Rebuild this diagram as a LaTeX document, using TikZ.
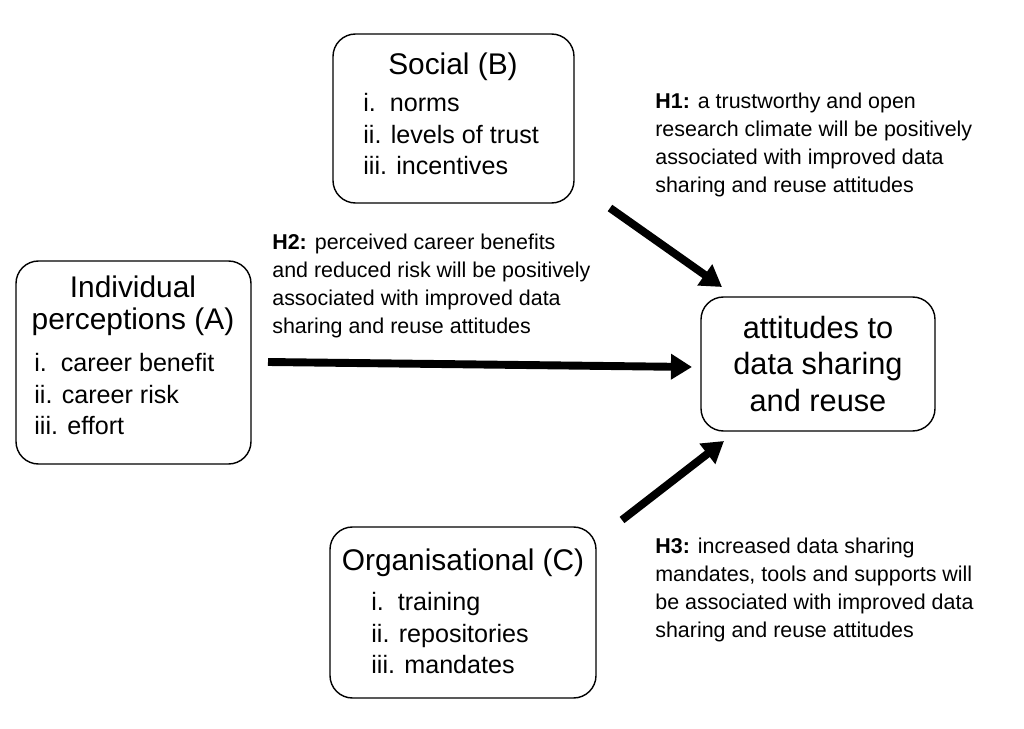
\documentclass[tikz,border=0pt]{standalone}
\usepackage{fontspec}
\setmainfont{Liberation Sans}
\usetikzlibrary{arrows.meta}
\tikzstyle{factor}=[draw,rounded corners=0.45cm,line width=0.8pt,inner sep=0pt]
\tikzstyle{title}=[inner sep=0pt,align=center,font=\fontsize{17}{18.5}\selectfont]
\tikzstyle{items}=[inner sep=0pt,anchor=north west,align=left,font=\fontsize{14.3}{17.9}\selectfont]
\tikzstyle{hyp}=[inner sep=0pt,anchor=north west,align=left,font=\fontsize{12.2}{15.9}\selectfont]
\tikzstyle{link}=[line width=4.5pt,-{Triangle[length=12pt,width=14pt]}]

\begin{document}
\begin{tikzpicture}[x=0.02cm,y=-0.02cm]
	\useasboundingbox (0,0) rectangle (1024,729);
	% factor boxes
	\node[factor,minimum width=241*0.02cm,minimum height=169*0.02cm] (social) at (453.5,118.5) {};
	\node[factor,minimum width=235*0.02cm,minimum height=203*0.02cm] (indiv) at (133.5,362.5) {};
	\node[factor,minimum width=266*0.02cm,minimum height=171*0.02cm] (organ) at (463,612.5) {};
	\node[factor,minimum width=234*0.02cm,minimum height=134*0.02cm] (attit) at (818,364) {};

	\node[title] (socialt) at (453,67) {Social (B)};
	\node[items] (sociall) at (363,93) {i.\ \ norms\\ii. levels of trust\\iii. incentives};
	\node[title] (indivt) at (133,306) {Individual\\perceptions (A)};
	\node[items] (indivl) at (34,353) {i.\ \ career benefit\\ii. career risk\\iii. effort};
	\node[title] (organt) at (463,563) {Organisational (C)};
	\node[items] (organl) at (371,592) {i.\ \ training\\ii. repositories\\iii. mandates};
	\node[title,font=\fontsize{17.5}{20.5}\selectfont] (attitt) at (818,364) {attitudes to\\data sharing\\and reuse};

	% hypotheses
	\node[hyp] (h1) at (655,93) {\textbf{H1:} a trustworthy and open\\research climate will be positively\\associated with improved data\\sharing and reuse attitudes};
	\node[hyp] (h2) at (272,234) {\textbf{H2:} perceived career benefits\\and reduced risk will be positively\\associated with improved data\\sharing and reuse attitudes};
	\node[hyp] (h3) at (655,538) {\textbf{H3:} increased data sharing\\mandates, tools and supports will\\be associated with improved data\\sharing and reuse attitudes};

	% arrows
	\coordinate (a1) at (610,208);
	\coordinate (b1) at (722,287);
	\coordinate (a2) at (268,362);
	\coordinate (b2) at (692,367);
	\coordinate (a3) at (622,520);
	\coordinate (b3) at (724,441);
	\foreach \source/\dest in {a1/b1, a2/b2, a3/b3}
	\draw[link] (\source) -- (\dest);
\end{tikzpicture}
\end{document}
